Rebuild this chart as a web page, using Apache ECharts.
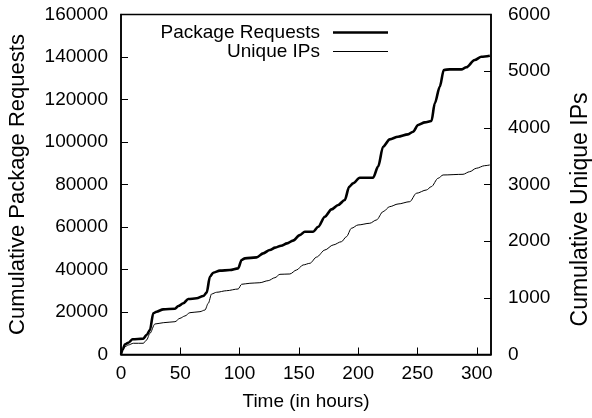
<!DOCTYPE html>
<html>
<head>
<meta charset="utf-8">
<script src="https://cdn.jsdelivr.net/npm/echarts@6/dist/echarts.min.js"></script>
<style>
  html, body { margin: 0; padding: 0; background: #fff; }
  #box { width: 592px; height: 418px; }
</style>
</head>
<body>
<div id="box"></div>
<script>
// hours since start, cumulative package requests (left axis)
const reqHours = [0, 1.5, 3.4, 6.2, 9.8, 18.8, 21.6, 24.4, 27.2, 30, 35.6, 45.5, 48.3, 52.5, 56.7, 63.8, 69.4, 72.2, 75, 77.8, 83.4, 91.8, 98.8, 101.7, 104.5, 114.3, 119.9, 125.5, 130, 135, 140, 145, 150.8, 155, 162, 166.3, 171.9, 177.5, 183.1, 188.7, 192.4, 195.7, 201.4, 212.6, 216.8, 221, 226.6, 233.6, 242, 246.3, 250.5, 256.2, 261.8, 264.6, 268.8, 272.2, 277.2, 287, 291.2, 298.3, 303.9, 311]
const reqValues = [0, 2500, 4800, 5550, 7150, 7450, 9200, 11500, 19400, 20150, 21250, 21550, 22800, 24100, 26100, 26450, 27500, 29100, 36600, 38500, 39450, 39750, 40550, 44500, 45250, 45700, 47600, 49200, 50300, 51200, 52300, 53600, 56200, 57800, 57800, 60150, 64850, 68300, 70350, 72700, 78950, 80550, 83200, 83200, 88400, 97800, 101250, 102500, 103600, 104850, 108000, 109250, 109900, 118200, 126000, 133900, 134200, 134200, 135150, 138600, 140150, 140600]

// cumulative unique IPs (right axis)
const ipHours = [0, 1.5, 3.4, 6.2, 10.4, 18.8, 21.6, 24.4, 28.6, 35.6, 45.5, 49.7, 53.9, 58.1, 66.6, 70.8, 73.6, 76.4, 80.6, 89, 98.8, 101.7, 108.7, 117.1, 124.1, 129.8, 134, 142.4, 148, 153.6, 159.3, 165, 171.9, 178.9, 185.9, 190.1, 194.3, 199.9, 209.8, 215.4, 221, 226.6, 233.6, 243.5, 249.1, 257.5, 261.7, 267.4, 271.6, 288.4, 294, 299.6, 306.6, 311]
const ipValues = [0, 90, 138, 168, 198, 198, 256, 374, 538, 561, 579, 639, 680, 738, 756, 785, 904, 1068, 1098, 1126, 1156, 1239, 1257, 1267, 1303, 1356, 1415, 1421, 1491, 1580, 1610, 1720, 1844, 1933, 1991, 2079, 2227, 2286, 2316, 2374, 2521, 2609, 2656, 2697, 2845, 2903, 2962, 3110, 3168, 3180, 3226, 3286, 3332, 3345]

const xTicks = [0, 50, 100, 150, 200, 250, 300]

const font = "'Liberation Sans', Arial, sans-serif"
const black = '#000'

const myChart = echarts.init(document.getElementById('box'))

// plain numbers, no thousands separator
const plain = v => String(v)

const option = {
  backgroundColor: '#fff',
  animation: false,
  textStyle: { fontFamily: font, color: black },
  grid: {
    left: 121, right: 101, top: 14.5, bottom: 63.5,
    outerBoundsMode: 'none',
    show: true, borderColor: black, borderWidth: 1.5, backgroundColor: 'transparent'
  },
  legend: [
    {
      data: ['Package Requests'],
      right: 204, top: 23, padding: 0,
      align: 'right', icon: 'rect', itemWidth: 55, itemHeight: 2.6,
      textStyle: { fontSize: 19, color: black, fontFamily: font, padding: [0, 8, 0, 0] }
    },
    {
      data: ['Unique IPs'],
      right: 204, top: 42, padding: 0,
      align: 'right', icon: 'rect', itemWidth: 55, itemHeight: 1,
      textStyle: { fontSize: 19, color: black, fontFamily: font, padding: [0, 8, 0, 0] }
    }
  ],
  xAxis: {
    type: 'value',
    min: 0, max: 312, interval: 50,
    splitLine: { show: false },
    axisLine: { lineStyle: { color: black, width: 1.5 } },
    axisTick: { inside: true, length: 7, lineStyle: { color: black } },
    axisLabel: {
      fontSize: 19, color: black, margin: 10, showMaxLabel: false,
      formatter: v => xTicks.includes(v) ? String(v) : ''
    },
    name: 'Time (in hours)',
    nameLocation: 'middle', nameGap: 38,
    nameTextStyle: { fontSize: 19, color: black }
  },
  yAxis: [
    {
      type: 'value', position: 'left',
      min: 0, max: 160000, interval: 20000,
      splitLine: { show: false },
      axisLine: { show: true, lineStyle: { color: black, width: 1.5 } },
      axisTick: { show: true, inside: true, length: 7, lineStyle: { color: black } },
      axisLabel: { fontSize: 19, color: black, margin: 13, formatter: plain },
      name: 'Cumulative Package Requests',
      nameLocation: 'middle', nameGap: 92,
      nameTextStyle: { fontSize: 22, color: black }
    },
    {
      type: 'value', position: 'right',
      min: 0, max: 6000, interval: 1000,
      splitLine: { show: false },
      axisLine: { show: true, lineStyle: { color: black, width: 1.5 } },
      axisTick: { show: true, inside: true, length: 7, lineStyle: { color: black } },
      axisLabel: { fontSize: 19, color: black, margin: 17, formatter: plain },
      name: 'Cumulative Unique IPs',
      nameLocation: 'middle', nameGap: 78, nameRotate: 90,
      nameTextStyle: { fontSize: 23, color: black, padding: [0, 50, 0, 0] }
    }
  ],
  series: [
    {
      name: 'Package Requests',
      type: 'line',
      yAxisIndex: 0,
      symbol: 'none',
      smooth: 0.3, smoothMonotone: 'x',
      lineStyle: { color: black, width: 2.6 },
      itemStyle: { color: black },
      data: reqHours.map((h, i) => [h, reqValues[i]])
    },
    {
      name: 'Unique IPs',
      type: 'line',
      yAxisIndex: 1,
      symbol: 'none',
      smooth: 0.3, smoothMonotone: 'x',
      lineStyle: { color: black, width: 1 },
      itemStyle: { color: black },
      data: ipHours.map((h, i) => [h, ipValues[i]])
    }
  ]
}

myChart.setOption(option)
</script>
</body>
</html>
